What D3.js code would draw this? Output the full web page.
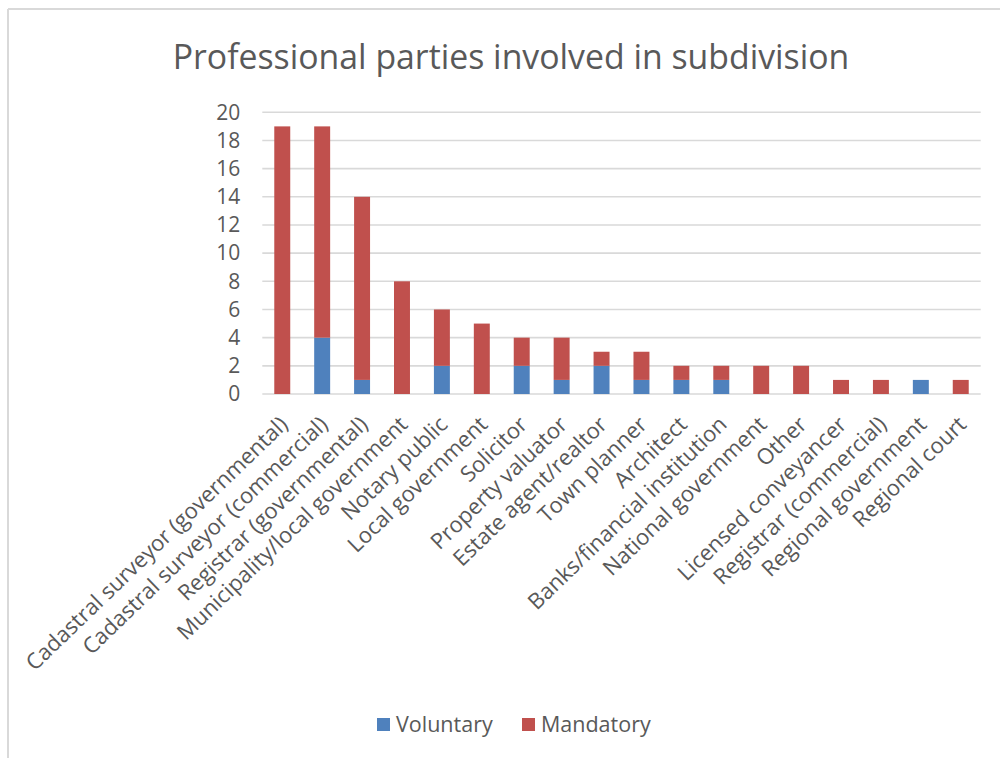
<!DOCTYPE html>
<html><head><meta charset="utf-8">
<script src="https://cdn.jsdelivr.net/npm/d3@7/dist/d3.min.js"></script>
<style>
html,body{margin:0;padding:0;background:#fff;}
svg{display:block;font-family:"Open Sans","Noto Sans",sans-serif;}
</style></head>
<body>
<svg id="chart" width="1000" height="758"></svg>
<script>
const categories = [
  "Cadastral surveyor (governmental)",
  "Cadastral surveyor (commercial)",
  "Registrar (governmental)",
  "Municipality/local government",
  "Notary public",
  "Local government",
  "Solicitor",
  "Property valuator",
  "Estate agent/realtor",
  "Town planner",
  "Architect",
  "Banks/financial institution",
  "National government",
  "Other",
  "Licensed conveyancer",
  "Registrar (commercial)",
  "Regional government",
  "Regional court"
];
const voluntary = [0, 4, 1, 0, 2, 0, 2, 1, 2, 1, 1, 1, 0, 0, 0, 0, 1, 0];
const mandatory = [19, 15, 13, 8, 4, 5, 2, 3, 1, 2, 1, 1, 2, 2, 1, 1, 0, 1];
const seriesNames = ["Voluntary", "Mandatory"];
const seriesColors = ["#4f81bd", "#c0504d"];
const yTicks = [0, 2, 4, 6, 8, 10, 12, 14, 16, 18, 20];
const title = "Professional parties involved in subdivision";

const svg = d3.select("#chart");
const textColor = "#595959";
const gridColor = "#d9d9d9";
const fontFam = "'Open Sans','Noto Sans',sans-serif";

// outer border (chart area frame)
svg.append("line").attr("x1", 8).attr("x2", 1000).attr("y1", 9).attr("y2", 9)
  .attr("stroke", gridColor).attr("stroke-width", 2);
svg.append("line").attr("x1", 8).attr("x2", 8).attr("y1", 9).attr("y2", 758)
  .attr("stroke", gridColor).attr("stroke-width", 2);

const plot = {left: 262.3, right: 980.7, top: 112.3, bottom: 394};

const x = d3.scaleBand().domain(categories)
  .range([plot.left, plot.right]).paddingInner(0.6).paddingOuter(0.3);
const y = d3.scaleLinear().domain([0, 20]).range([plot.bottom, plot.top]);

// title
svg.append("text").attr("x", 511).attr("y", 69).attr("text-anchor", "middle")
  .attr("font-size", 33.8).attr("fill", textColor).text(title);

// gridlines
svg.append("g").selectAll("line").data(yTicks).join("line")
  .attr("x1", plot.left).attr("x2", plot.right)
  .attr("y1", d => y(d)).attr("y2", d => y(d))
  .attr("stroke", gridColor).attr("stroke-width", 1.6);

// y axis labels
const yAxis = d3.axisLeft(y).tickValues(yTicks).tickSize(0).tickPadding(0);
const yg = svg.append("g").attr("transform", `translate(${plot.left - 22},0)`).call(yAxis);
yg.select(".domain").remove();
yg.selectAll("text").attr("font-size", 21).attr("fill", textColor)
  .attr("font-family", fontFam);

// stacked bars
const rows = categories.map((c, i) => ({cat: c, Voluntary: voluntary[i], Mandatory: mandatory[i]}));
const stacked = d3.stack().keys(seriesNames)(rows);
svg.append("g").selectAll("g").data(stacked).join("g")
  .attr("fill", (d, i) => seriesColors[i])
  .selectAll("rect").data(d => d).join("rect")
  .attr("x", d => x(d.data.cat))
  .attr("width", x.bandwidth())
  .attr("y", d => y(d[1]))
  .attr("height", d => y(d[0]) - y(d[1]));

// x axis labels (rotated)
const xAxis = d3.axisBottom(x).tickSize(0).tickPadding(0);
const xg = svg.append("g").attr("transform", `translate(0,${plot.bottom})`).call(xAxis);
xg.select(".domain").remove();
xg.selectAll("text")
  .attr("font-size", 22).attr("fill", textColor)
  .attr("font-family", fontFam)
  .attr("text-anchor", "end")
  .attr("dy", null)
  .attr("y", 0)
  .attr("transform", "translate(7,32) rotate(-44)");

// legend
const legendItems = [
  {name: seriesNames[0], color: seriesColors[0], sx: 377, tx: 396},
  {name: seriesNames[1], color: seriesColors[1], sx: 522, tx: 541}
];
const lg = svg.append("g");
legendItems.forEach(it => {
  lg.append("rect").attr("x", it.sx).attr("y", 718).attr("width", 13).attr("height", 13).attr("fill", it.color);
  lg.append("text").attr("x", it.tx).attr("y", 732).attr("font-size", 21.5)
    .attr("fill", textColor).text(it.name);
});
</script>
</body></html>
